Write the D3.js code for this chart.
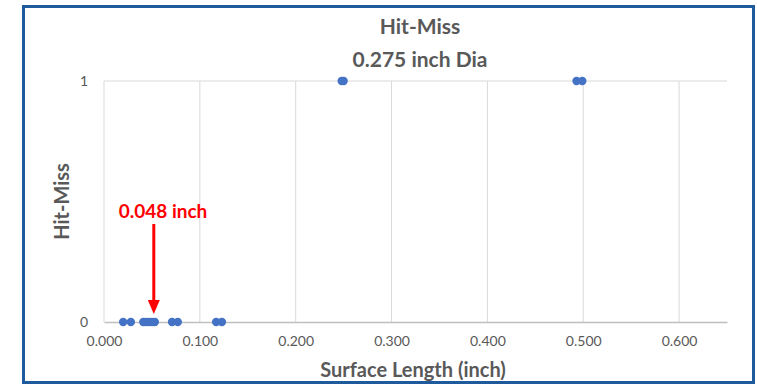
<!DOCTYPE html>
<html>
<head>
<meta charset="utf-8">
<script src="https://cdn.jsdelivr.net/npm/d3@7"></script>
<style>
  body { margin: 0; background: #fff; }
  svg text { font-family: Lato, "Open Sans", sans-serif; }
</style>
</head>
<body>
<div id="chart"></div>
<script>
// surface lengths (inch) and hit/miss outcome
const surfaceLength = [0.020, 0.028, 0.041, 0.044, 0.047, 0.050, 0.053, 0.071, 0.077, 0.117, 0.123,
                       0.248, 0.250, 0.493, 0.499];
const hitMiss =       [0, 0, 0, 0, 0, 0, 0, 0, 0, 0, 0,
                       1, 1, 1, 1];
const xTicks = [0, 0.1, 0.2, 0.3, 0.4, 0.5, 0.6];
const yTicks = [0, 1];
const titleLines = ["Hit-Miss", "0.275 inch Dia"];
const xTitle = "Surface Length (inch)";
const yTitle = "Hit-Miss";
const note = { label: "0.048 inch", value: 0.053 };

const W = 757, H = 386;
const margin = { top: 81, right: 30, bottom: 64, left: 104 };
const width = W - margin.left - margin.right;
const height = H - margin.top - margin.bottom;

const svg = d3.select("#chart").append("svg")
  .attr("width", W).attr("height", H);

// outer frame
svg.append("rect")
  .attr("x", 23.5).attr("y", 6.5).attr("width", 730).attr("height", 376)
  .attr("fill", "none").attr("stroke", "#1f5a9c").attr("stroke-width", 3);

const g = svg.append("g").attr("transform", `translate(${margin.left},${margin.top})`);

const x = d3.scaleLinear().domain([0, 0.65]).range([0, width]);
const y = d3.scaleLinear().domain([0, 1]).range([height, 0]);

// vertical gridlines
g.append("g").selectAll("line").data(xTicks.slice(1)).join("line")
  .attr("x1", d => x(d)).attr("x2", d => x(d))
  .attr("y1", 0).attr("y2", height)
  .attr("stroke", "#d9d9d9").attr("stroke-width", 1);
// left line
g.append("line").attr("x1", 0).attr("x2", 0).attr("y1", 0).attr("y2", height)
  .attr("stroke", "#d9d9d9");
// horizontal gridline at 1
g.append("line").attr("x1", 0).attr("x2", width).attr("y1", y(1)).attr("y2", y(1))
  .attr("stroke", "#d9d9d9");

// x axis
const xAxis = g.append("g").attr("transform", `translate(0,${height})`)
  .call(d3.axisBottom(x).tickValues(xTicks).tickFormat(d3.format(".3f")).tickSize(0).tickPadding(14));
xAxis.select(".domain").attr("stroke", "#bfbfbf").attr("stroke-width", 1.5);
xAxis.selectAll("text").attr("fill", "#595959").attr("font-size", 14);

// y axis
const yAxis = g.append("g")
  .call(d3.axisLeft(y).tickValues(yTicks).tickFormat(d3.format("d")).tickSize(0).tickPadding(16));
yAxis.select(".domain").remove();
yAxis.selectAll("text").attr("fill", "#595959").attr("font-size", 14);

// points
const pts = surfaceLength.map((v, i) => ({ x: v, y: hitMiss[i] }));
g.selectAll("circle.pt").data(pts).join("circle")
  .attr("class", "pt")
  .attr("cx", d => x(d.x)).attr("cy", d => y(d.y))
  .attr("r", 4.2).attr("fill", "#4472c4");

// titles
svg.selectAll("text.title").data(titleLines).join("text")
  .attr("class", "title")
  .attr("x", 420).attr("y", (d, i) => 34 + i * 33)
  .attr("text-anchor", "middle").attr("fill", "#595959")
  .attr("font-size", 21).attr("font-weight", "bold")
  .text(d => d);

svg.append("text")
  .attr("x", 413).attr("y", 377)
  .attr("text-anchor", "middle").attr("fill", "#595959")
  .attr("font-size", 20).attr("font-weight", "bold")
  .text(xTitle);

svg.append("text")
  .attr("transform", `translate(69,${margin.top + height / 2}) rotate(-90)`)
  .attr("text-anchor", "middle").attr("fill", "#595959")
  .attr("font-size", 20).attr("font-weight", "bold")
  .text(yTitle);

// annotation
const ax = margin.left + x(note.value) - 1;
svg.append("text")
  .attr("x", 163).attr("y", 218)
  .attr("text-anchor", "middle").attr("fill", "#ff0000")
  .attr("font-size", 19).attr("font-weight", "bold")
  .text(note.label);
svg.append("line")
  .attr("x1", ax).attr("x2", ax).attr("y1", 224).attr("y2", 302)
  .attr("stroke", "#ff0000").attr("stroke-width", 3);
svg.append("path")
  .attr("d", `M${ax - 6},300 L${ax + 6},300 L${ax},314 Z`)
  .attr("fill", "#ff0000");
</script>
</body>
</html>
